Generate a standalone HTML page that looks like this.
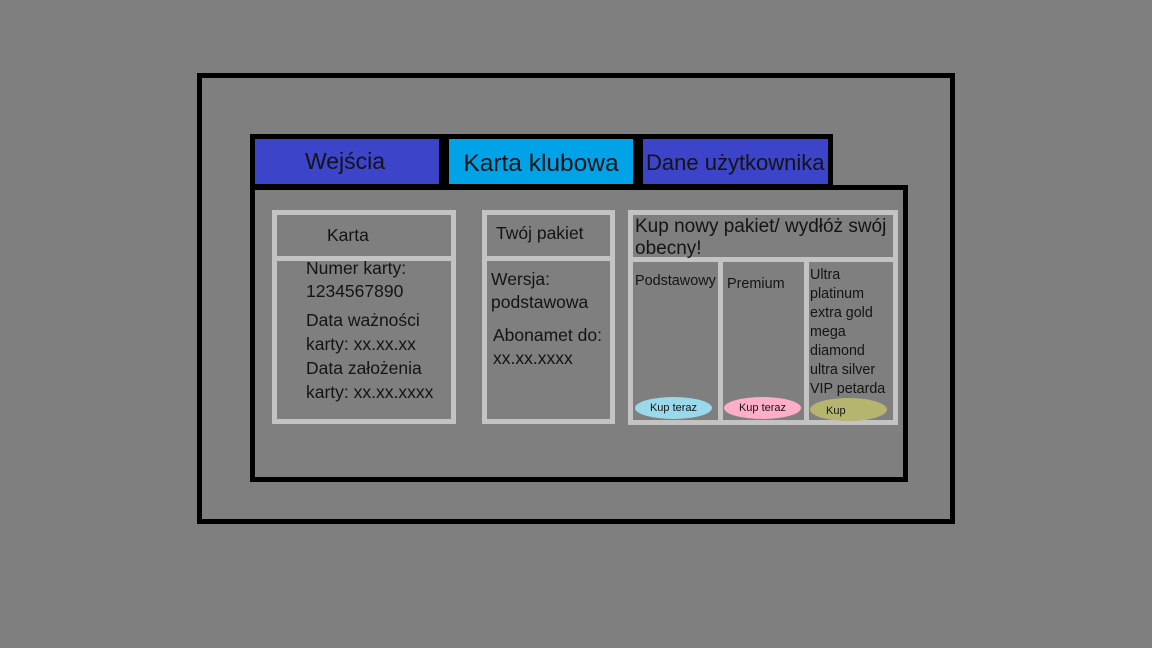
<!DOCTYPE html>
<html><head><meta charset="utf-8"><style>
body{margin:0;width:1152px;height:648px;background:#7f7f7f;position:relative;overflow:hidden;font-family:"Liberation Sans","DejaVu Sans",sans-serif;color:#141414}
div{position:absolute;box-sizing:border-box}
.t{white-space:nowrap}
.g{border:5px solid #c3c3c3}
.el{border-radius:50%;font-size:11px;text-align:center;line-height:22px}
</style></head><body>
<div style="left:197px;top:73px;width:758px;height:451px;border:5px solid #000"></div>
<div style="left:250px;top:134px;width:583px;height:56px;background:#000"></div>
<div style="left:255px;top:139px;width:184px;height:45px;background:#3c44c9"></div>
<div style="left:449px;top:139px;width:184px;height:45px;background:#00a2e8"></div>
<div style="left:643px;top:139px;width:185px;height:45px;background:#3c44c9"></div>
<div class="t" style="left:255px;top:148px;width:180px;text-align:center;font-size:23px">Wejścia</div>
<div class="t" style="left:449px;top:150px;width:184px;text-align:center;font-size:24.5px">Karta klubowa</div>
<div class="t" style="left:646px;top:150px;font-size:22px">Dane użytkownika</div>
<div style="left:250px;top:185px;width:658px;height:297px;border:5px solid #000;background:#7f7f7f"></div>
<div style="left:255px;top:184px;width:573px;height:6px;background:#000"></div>

<div class="g" style="left:272px;top:210px;width:184px;height:214px"></div>
<div style="left:277px;top:256px;width:174px;height:5px;background:#c3c3c3"></div>
<div class="t" style="left:327px;top:225px;font-size:17.5px">Karta</div>
<div class="t" style="left:306px;top:257px;font-size:17.5px;line-height:23px">Numer karty:<br>1234567890</div>
<div class="t" style="left:306px;top:308px;font-size:17.5px;line-height:24px">Data ważności<br>karty: xx.xx.xx<br>Data założenia<br>karty: xx.xx.xxxx</div>

<div class="g" style="left:482px;top:210px;width:133px;height:214px"></div>
<div style="left:487px;top:256px;width:123px;height:5px;background:#c3c3c3"></div>
<div class="t" style="left:496px;top:223px;font-size:17.5px">Twój pakiet</div>
<div class="t" style="left:491px;top:268px;font-size:17.5px;line-height:23px">Wersja:<br>podstawowa</div>
<div class="t" style="left:493px;top:324px;font-size:17.5px;line-height:23px">Abonamet do:<br>xx.xx.xxxx</div>

<div class="g" style="left:628px;top:210px;width:270px;height:215px"></div>
<div style="left:633px;top:257px;width:260px;height:5px;background:#c3c3c3"></div>
<div style="left:718px;top:262px;width:5px;height:158px;background:#c3c3c3"></div>
<div style="left:804px;top:262px;width:5px;height:158px;background:#c3c3c3"></div>
<div class="t" style="left:635px;top:216px;font-size:19px;line-height:22px">Kup nowy pakiet/ wydłóż swój<br>obecny!</div>
<div class="t" style="left:635px;top:273px;font-size:14.4px">Podstawowy</div>
<div class="t" style="left:727px;top:276px;font-size:14.4px">Premium</div>
<div class="t" style="left:810px;top:266px;font-size:14.3px;line-height:19px">Ultra<br>platinum<br>extra gold<br>mega<br>diamond<br>ultra silver<br>VIP petarda</div>
<div class="el" style="left:635px;top:397px;width:77px;height:22px;background:#99d9ea">Kup teraz</div>
<div class="el" style="left:724px;top:397px;width:77px;height:22px;background:#ffaec9">Kup teraz</div>
<div class="el" style="left:810px;top:398px;width:77px;height:23px;background:#b5b570;text-align:left;padding-left:16px;line-height:26px">Kup</div>
</body></html>
